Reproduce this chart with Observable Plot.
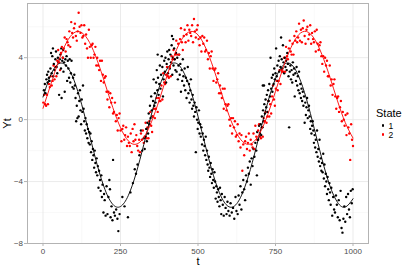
<!DOCTYPE html>
<html>
<head>
<meta charset="utf-8">
<script src="https://cdn.jsdelivr.net/npm/d3@7"></script>
<script src="https://cdn.jsdelivr.net/npm/@observablehq/plot@0.6"></script>
<style>
  html, body { margin: 0; padding: 0; background: #fff; }
  #wrap { position: relative; width: 409px; height: 266px; font-family: "Liberation Sans", Arial, sans-serif; }
  #wrap svg g[aria-label="x-axis label"], #wrap svg g[aria-label="y-axis label"] { fill: #000; font-size: 11px; }
  #legend { position: absolute; left: 376px; top: 107px; font-size: 11px; color: #000; }
  #legend .title { line-height: 13px; margin-bottom: 1px; }
  #legend .item { display: flex; align-items: center; height: 9px; font-size: 8.5px; }
  #legend .dot { width: 2.4px; height: 2.4px; border-radius: 50%; margin-left: 6px; margin-right: 4px; }
</style>
</head>
<body>
<div id="wrap"><div id="legend"></div></div>
<script>
const states = ["1", "2"];
const stateColors = ["#000000", "#ff0000"];
const legendTitle = "State";
const xTicks = [0, 250, 500, 750, 1000];
const yTicks = [-8, -4, 0, 4];
const xMinor = [125, 375, 625, 875];
const yMinor = [-6, -2, 2, 6];

// fitted curves (at every 25 steps of t)
const curveT = [0,25,50,75,100,125,150,175,200,225,250,275,300,325,350,375,400,425,450,475,500,525,550,575,600,625,650,675,700,725,750,775,800,825,850,875,900,925,950,975,1000];
const curve1 = [1.46,2.89,3.60,3.48,2.55,0.96,-0.98,-2.93,-4.52,-5.47,-5.61,-4.91,-3.49,-1.62,0.36,2.10,3.27,3.66,3.20,1.98,0.21,-1.78,-3.62,-4.99,-5.63,-5.43,-4.41,-2.78,-0.82,1.11,2.65,3.52,3.58,2.79,1.32,-0.58,-2.55,-4.25,-5.34,-5.65,-5.11];
const curve2 = [0.73,2.27,3.77,4.95,5.61,5.62,4.99,3.82,2.33,0.79,-0.52,-1.37,-1.59,-1.16,-0.14,1.27,2.83,4.24,5.26,5.69,5.47,4.62,3.31,1.77,0.28,-0.89,-1.52,-1.51,-0.85,0.33,1.83,3.37,4.66,5.49,5.69,5.23,4.19,2.77,1.21,-0.19,-1.19];

// observations [t, Yt] for state 1
const state1Points = [
[3,1.9],[6,2.3],[8,1.7],[11,2.6],[13,2.9],[15,2.4],[17,3.1],[19,2.7],[21,2.5],[24,3.3],[26,4.3],[28,3.0],[30,4.1],[32,4.6],[33,2.8],[35,3.6],[37,3.2],[40,3.9],[42,4.4],[44,3.4],[46,3.0],[48,4.0],[50,3.7],[52,1.6],[54,3.9],[56,4.2],[58,3.3],[59,4.6],[60,1.4],[62,3.8],[64,4.0],[65,4.5],[66,3.1],[68,3.7],[70,1.8],[72,3.9],[74,3.5],[76,4.1],[78,2.5],[80,3.8],[82,3.3],[84,2.7],[86,3.9],[88,2.4],[90,3.0],[92,3.8],[95,2.1],[97,2.7],[99,2.0],
[101,2.9],[103,2.2],[105,1.4],[107,-0.1],[109,0.9],[111,0.1],[113,1.7],[115,0.2],[117,1.2],[119,1.9],[121,0.6],[123,-0.3],[125,1.3],[127,0.5],[129,2.2],[131,0.7],[133,-0.1],[135,-0.7],[137,0.1],[139,-0.9],[141,-0.3],[143,-1.2],[145,-0.6],[147,-1.5],[149,-0.8],
[151,-1.6],[153,-0.9],[155,-2.1],[157,-1.4],[159,-2.6],[161,-1.9],[163,-2.3],[165,-3.1],[167,-2.0],[169,-2.8],[171,-3.4],[173,-2.5],[175,-3.6],[177,-3.0],[179,-4.4],[181,-3.3],[184,-3.9],[186,-4.6],[188,-3.6],[190,-5.0],[192,-4.2],[195,-6.0],[197,-4.8],[199,-5.2],[202,-6.2],[205,-4.3],[208,-6.1],[211,-5.0],[214,-3.9],[216,-4.5],[218,-6.3],[221,-5.6],[224,-6.5],[226,-2.6],[229,-6.0],[232,-6.2],[236,-5.8],[240,-6.4],[243,-7.2],[247,-6.1],
[256,-5.0],[263,-5.6],[274,-6.3],[282,-4.7],[290,-4.1],[296,-3.2],[300,-3.5],[305,-2.9],[311,-2.3],[316,-0.7],[320,-2.0],[325,-1.2],[328,-1.9],
[331,-1.1],[333,-0.6],[335,-1.4],[337,-0.2],[339,-0.9],[341,0.4],[343,-0.3],[345,0.9],[347,0.1],[349,1.5],[351,0.6],[353,0.2],[355,1.2],[357,2.6],[359,0.9],[361,1.7],[363,1.1],[365,2.4],[367,3.2],[369,1.9],[370,4.2],[371,2.7],[373,1.6],[375,2.3],[377,3.5],[379,2.0],[381,2.9],[383,4.1],[385,3.4],[387,1.5],[389,2.6],[391,3.8],[393,3.1],[395,4.0],[397,2.4],[399,3.6],[401,4.4],[403,3.0],[405,3.9],[407,4.5],[409,3.3],[411,4.2],[413,3.7],[415,4.8],[416,5.4],[417,2.9],[419,4.0],[420,5.2],[421,3.5],[423,4.6],[425,3.9],[427,3.2],[429,4.3],
[431,3.1],[433,4.0],[435,2.6],[437,3.5],[439,4.2],[441,2.9],[443,3.6],[445,1.8],[447,3.2],[449,2.5],[451,3.9],[453,2.8],[455,2.2],[457,3.3],[459,1.9],[461,2.7],[463,1.4],[465,2.5],[467,3.4],[469,1.7],[471,2.3],[473,1.1],[475,1.9],[477,2.6],[479,1.3],[481,0.7],[483,1.6],[485,0.9],[487,0.2],[489,1.1],[491,0.5],[493,-2.1],[495,0.8],[497,0.0],[499,-0.6],
[501,-0.2],[503,0.6],[505,-0.9],[507,-0.3],[509,-1.1],[511,-0.5],[513,-1.6],[515,-0.9],[517,-2.0],[519,-1.3],[521,-1.7],[523,-2.3],[525,-1.1],[527,-2.6],[529,-2.0],[531,-2.9],[533,-3.3],[535,-2.4],[537,-3.1],[539,-3.7],[541,-2.8],[543,-3.5],[545,-4.1],[547,-3.2],[549,-3.9],[551,-4.4],[553,-3.4],[555,-4.0],[557,-5.1],[559,-4.3],[561,-4.7],[563,-5.3],[565,-4.5],[567,-5.0],[569,-5.6],[571,-4.4],[573,-5.2],[575,-6.1],[577,-4.8],[580,-5.5],[583,-6.2],[586,-5.0],[589,-5.7],[592,-6.1],[595,-5.3],[598,-5.9],
[602,-6.2],[605,-5.4],[609,-6.0],[613,-5.7],[617,-6.4],[621,-5.0],[624,-5.9],[628,-6.1],[631,-4.9],[634,-5.5],[637,-4.3],[640,-5.8],[643,-4.7],[646,-3.9],[649,-4.5],[652,-5.2],[655,-3.6],[658,-4.0],[661,-3.1],[664,-3.5],[667,-2.7],[670,-4.2],[673,-2.5],[676,-3.0],[679,-1.9],[682,-2.4],[685,-1.5],[688,-2.0],[690,-3.6],[691,-0.8],[694,-1.3],[697,-0.4],[700,-0.9],
[702,-0.3],[704,-1.0],[706,0.2],[708,-0.5],[709,2.2],[710,0.6],[712,-0.1],[713,2.2],[714,1.0],[716,0.4],[718,1.3],[720,0.8],[722,1.6],[724,0.5],[726,1.9],[728,1.2],[730,2.3],[732,1.5],[734,4.0],[736,2.0],[738,2.7],[740,1.8],[742,2.9],[744,2.3],[746,3.3],[748,2.6],[750,3.0],[752,4.6],[754,2.8],[756,3.5],[758,2.5],[760,3.8],[762,3.1],[764,4.1],[766,3.4],[768,5.3],[770,3.9],[772,3.3],[774,4.8],[776,3.7],[778,3.0],[780,4.0],[782,3.4],[784,3.8],[786,3.2],[788,4.3],[790,3.6],[792,2.8],[794,-0.5],[796,3.1],[798,3.5],[800,2.6],
[802,3.2],[804,2.4],[806,3.7],[808,2.9],[810,3.3],[812,1.5],[814,3.0],[816,2.5],[818,3.4],[820,2.2],[822,2.8],[824,1.9],[826,3.1],[828,1.7],[830,2.3],[832,1.4],[834,2.0],[836,1.2],[838,1.8],[840,0.9],[842,1.5],[844,-0.2],[846,1.1],[848,0.3],[850,0.8],[852,1.4],[854,0.1],[856,0.6],[858,0.9],[860,0.2],[862,-0.6],[864,-0.1],[866,-0.9],[868,-0.4],[870,-0.1],[872,-0.7],[874,-1.5],[876,-1.0],[878,-1.8],[880,-1.3],[882,-2.1],[884,-0.7],[886,-2.4],[888,-1.9],[890,-2.7],[892,-1.3],[894,-3.0],[896,-2.5],[898,-3.3],[900,-2.8],
[902,-3.4],[904,-2.2],[906,-3.8],[908,-2.9],[910,-4.3],[912,-3.5],[914,-4.0],[916,-4.8],[918,-3.7],[920,-4.5],[922,-5.2],[924,-4.1],[926,-4.7],[928,-5.5],[930,-4.4],[933,-6.2],[936,-5.0],[939,-5.8],[942,-6.0],[945,-4.9],[948,-5.5],[951,-6.3],[954,-5.2],[957,-6.5],[960,-4.6],[963,-7.0],[966,-7.3],[969,-6.4],[972,-5.6],[975,-6.6],[978,-5.0],[981,-6.1],[984,-4.8],[987,-5.8],[990,-6.3],[993,-4.6],[996,-5.4],[999,-4.5]
];

// observations [t, Yt] for state 2
const state2Points = [
[1,1.1],[4,1.6],[7,1.0],[10,0.9],[13,1.6],[16,1.0],[19,2.3],[22,2.1],[25,2.8],[28,2.2],[31,2.5],[34,3.5],[37,2.6],[40,3.4],[43,2.8],[46,3.8],[49,4.5],[52,3.7],[55,3.2],[58,4.3],[61,4.7],[64,4.0],[67,4.6],[70,5.3],[73,4.4],[76,5.2],[79,5.0],[82,4.8],[85,5.7],[88,4.7],[91,6.3],[94,5.6],[97,5.3],
[100,5.9],[103,6.2],[106,5.4],[109,5.1],[112,5.7],[115,6.9],[118,6.0],[121,5.6],[124,6.1],[127,5.3],[130,5.4],[133,6.1],[136,4.9],[139,5.5],[142,4.6],[145,4.0],[148,5.8],[151,4.7],[154,4.0],[157,4.8],[160,4.9],[163,4.0],[166,4.2],[169,4.7],[172,3.5],[175,4.0],[178,3.5],[181,3.2],[184,3.8],[187,2.5],[190,3.8],[193,2.9],[196,2.4],[199,2.7],
[202,2.8],[205,1.8],[208,1.3],[211,1.8],[214,0.8],[217,1.7],[220,1.1],[223,1.4],[226,0.4],[229,0.5],[232,1.1],[235,-0.1],[238,0.3],[241,-0.7],[244,0.1],[247,0.4],[250,-0.7],[253,-1.4],[256,-0.6],[259,-0.4],[262,-1.3],[265,-1.0],[268,-0.5],[271,-1.7],[274,-1.1],[277,-1.5],[280,-1.7],[283,-0.9],[286,-2.1],[289,-0.6],[292,-1.4],[295,-0.3],[298,-1.3],
[301,-1.0],[304,-1.7],[307,-2.0],[310,-1.3],[313,-2.1],[316,-0.9],[319,-1.3],[322,-0.7],[325,-1.5],[328,-1.1],[331,-0.2],[334,-1.2],[337,-0.5],[340,-1.2],[343,-0.1],[346,0.5],[349,-0.4],[352,-0.8],[355,0.2],[358,0.7],[361,0.1],[364,0.7],[367,1.4],[370,0.5],[373,1.4],[376,1.2],[379,1.2],[382,2.2],[385,1.3],[388,3.0],[391,2.4],[394,2.3],[397,2.9],[400,3.4],
[403,2.8],[406,2.7],[409,3.4],[412,2.8],[415,4.1],[418,3.9],[421,4.5],[424,3.9],[427,4.2],[430,5.1],[433,4.2],[436,4.9],[439,4.2],[442,5.2],[445,5.9],[448,5.0],[451,4.5],[454,5.4],[457,5.8],[460,5.0],[463,5.5],[466,6.1],[469,5.1],[472,5.8],[475,5.6],[478,5.4],[481,6.1],[484,5.0],[487,6.5],[490,5.7],[493,5.3],[496,5.8],[499,6.1],
[502,5.2],[505,4.8],[508,5.3],[511,4.4],[514,5.4],[517,4.9],[520,5.3],[523,4.4],[526,4.5],[529,5.1],[532,3.9],[535,4.3],[538,3.3],[541,4.1],[544,4.4],[547,3.3],[550,2.5],[553,3.2],[556,3.3],[559,2.4],[562,2.6],[565,3.0],[568,1.7],[571,2.2],[574,1.7],[577,1.4],[580,2.0],[583,0.7],[586,2.0],[589,1.0],[592,0.6],[595,0.9],[598,1.0],
[601,0.0],[604,-0.4],[607,0.1],[610,-0.9],[613,0.1],[616,-0.5],[619,-0.1],[622,-1.1],[625,-1.0],[628,-0.3],[631,-1.4],[634,-0.9],[637,-1.8],[640,-1.0],[643,-3.3],[646,-1.6],[649,-2.3],[652,-1.4],[655,-1.1],[658,-1.9],[661,-1.5],[664,-0.9],[667,-2.0],[670,-1.3],[673,-1.6],[676,-1.8],[679,-0.9],[682,-1.9],[685,-0.4],[688,-1.1],[691,-1.3],[694,-0.7],[697,-0.3],[700,-1.1],
[703,-1.2],[706,-0.5],[709,-1.1],[712,0.1],[715,-0.1],[718,0.5],[721,-0.2],[724,0.2],[727,1.2],[730,0.2],[733,1.0],[736,0.4],[739,1.5],[742,2.2],[745,1.3],[748,0.9],[751,2.0],[754,2.5],[757,1.9],[760,2.5],[763,3.2],[766,2.3],[769,3.2],[772,3.1],[775,3.1],[778,4.0],[781,3.1],[784,4.7],[787,4.1],[790,3.9],[793,4.6],[796,5.1],[799,4.4],
[802,4.2],[805,4.9],[808,4.2],[811,5.4],[814,5.1],[817,5.7],[820,5.0],[823,5.3],[826,6.2],[829,5.1],[832,5.8],[835,5.0],[838,5.9],[841,6.4],[844,5.4],[847,4.9],[850,5.8],[853,6.0],[856,5.2],[859,5.5],[862,6.1],[865,4.9],[868,5.6],[871,5.2],[874,5.0],[877,5.7],[880,4.4],[883,5.8],[886,4.9],[889,4.5],[892,4.8],[895,5.0],[898,4.1],
[901,3.6],[904,4.1],[907,3.1],[910,4.0],[913,3.5],[916,3.8],[919,2.8],[922,2.8],[925,3.5],[928,2.2],[931,2.6],[934,1.6],[937,2.3],[940,2.6],[943,1.5],[946,0.7],[949,1.4],[952,1.5],[955,0.5],[958,0.8],[961,1.2],[964,-0.1],[967,0.5],[970,0.0],[973,-0.4],[976,0.3],[979,-1.0],[982,0.4],[985,-0.5],[988,-0.9],[991,-2.6],[994,-0.3],[997,-1.3],[1000,-1.7]
];

// build tables
const points = [
  ...state1Points.map(([t, y]) => ({t, y, state: states[0]})),
  ...state2Points.map(([t, y]) => ({t, y, state: states[1]}))
].sort((a, b) => a.t - b.t);
const curves = [
  ...curveT.map((t, i) => ({t, y: curve1[i], state: states[0]})),
  ...curveT.map((t, i) => ({t, y: curve2[i], state: states[1]}))
];
const fmt = (d) => (d < 0 ? "\u2212" + (-d) : String(d));

const chart = Plot.plot({
  width: 409,
  height: 266,
  marginLeft: 27,
  marginRight: 41,
  marginTop: 3,
  marginBottom: 23,
  style: {fontFamily: '"Liberation Sans", Arial, sans-serif', background: "#fff", overflow: "visible"},
  x: {domain: [-50, 1050]},
  y: {domain: [-8, 7.5]},
  color: {domain: states, range: stateColors},
  marks: [
    Plot.gridX(xMinor, {stroke: "#f2f2f2", strokeOpacity: 1, strokeWidth: 0.5}),
    Plot.gridY(yMinor, {stroke: "#f2f2f2", strokeOpacity: 1, strokeWidth: 0.5}),
    Plot.gridX(xTicks, {stroke: "#e6e6e6", strokeOpacity: 1, strokeWidth: 0.8}),
    Plot.gridY(yTicks, {stroke: "#e6e6e6", strokeOpacity: 1, strokeWidth: 0.8}),
    Plot.dot(points, {x: "t", y: "y", fill: "state", r: 1.2, stroke: null}),
    Plot.line(curves, {x: "t", y: "y", z: "state", stroke: "state", strokeWidth: 0.9, curve: "natural"}),
    Plot.frame({stroke: "#b3b3b3", strokeWidth: 1}),
    Plot.axisX(xTicks, {tickSize: 3, tickPadding: 1.5, fontSize: 8, stroke: "#b3b3b3", fill: "#4d4d4d", tickFormat: fmt,
      label: "t", labelAnchor: "center", labelArrow: "none", labelOffset: 21.5}),
    Plot.axisY(yTicks, {tickSize: 3, tickPadding: 1.5, fontSize: 8, stroke: "#b3b3b3", fill: "#4d4d4d", tickFormat: fmt,
      label: "Yt", labelAnchor: "center", labelArrow: "none"})
  ]
});
document.getElementById("wrap").prepend(chart);

// legend
const legend = document.getElementById("legend");
const title = document.createElement("div");
title.className = "title";
title.textContent = legendTitle;
legend.appendChild(title);
states.forEach((s, i) => {
  const item = document.createElement("div");
  item.className = "item";
  const dot = document.createElement("span");
  dot.className = "dot";
  dot.style.background = stateColors[i];
  const lab = document.createElement("span");
  lab.textContent = s;
  item.appendChild(dot);
  item.appendChild(lab);
  legend.appendChild(item);
});
</script>
</body>
</html>
